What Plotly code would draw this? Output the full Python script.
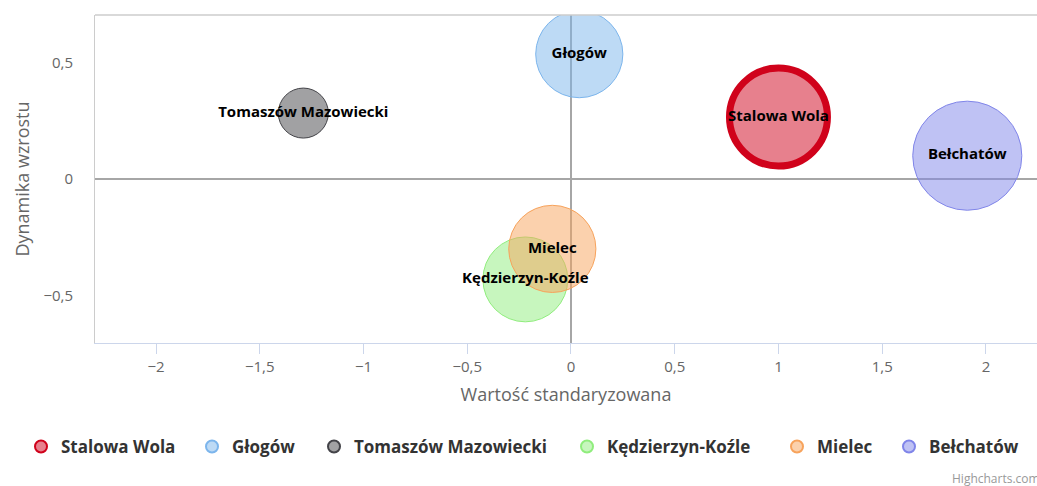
import plotly.graph_objects as go

# Miasta i ich położenie: wartość standaryzowana (x) oraz dynamika wzrostu (y)
miasta = ["Stalowa Wola", "Głogów", "Tomaszów Mazowiecki", "Kędzierzyn-Koźle", "Mielec", "Bełchatów"]
wartosc_std = [1.0, 0.04, -1.29, -0.22, -0.09, 1.91]
dynamika = [0.266, 0.536, 0.283, -0.431, -0.30, 0.10]
wielkosc = [9.6, 7.6, 2.5, 7.2, 7.6, 11.9]
kolory = ["#d0021b", "#7cb5ec", "#434348", "#90ed7d", "#f7a35c", "#8085e9"]
wyrozniony = "Stalowa Wola"

x_ticks = [-2, -1.5, -1, -0.5, 0, 0.5, 1, 1.5, 2]
y_ticks = [-0.5, 0, 0.5]

FONT = "Open Sans"
SIZEREF = 0.002
W, H = 1037, 486

# położenia pozycji legendy (piksele od lewej krawędzi, środek symbolu)
legenda_x = [41, 212, 334, 587, 797, 909]


def rgba(hex_color, alpha):
    h = hex_color.lstrip("#")
    r, g, b = (int(h[i:i + 2], 16) for i in (0, 2, 4))
    return f"rgba({r},{g},{b},{alpha})"


fig = go.Figure()
legend_layouts = {}

for i, (nazwa, x, y, z, kolor) in enumerate(zip(miasta, wartosc_std, dynamika, wielkosc, kolory)):
    leg = "legend" if i == 0 else f"legend{i + 1}"
    fig.add_trace(go.Scatter(
        x=[x], y=[y], name=nazwa, mode="markers", legendgroup=nazwa, legend=leg,
        marker=dict(size=[z], sizemode="area", sizeref=SIZEREF, opacity=1,
                    color=rgba(kolor, 0.5), line=dict(color=kolor, width=1)),
        hovertemplate=f"<b>{nazwa}</b><br>x: %{{x}}<br>y: %{{y}}<extra></extra>",
    ))
    if nazwa == wyrozniony:
        # grube obramowanie wyróżnionego punktu
        fig.add_trace(go.Scatter(
            x=[x], y=[y], mode="markers", legendgroup=nazwa, legend=leg,
            showlegend=False, hoverinfo="skip",
            marker=dict(size=[z], sizemode="area", sizeref=SIZEREF, opacity=1,
                        color="rgba(0,0,0,0)", line=dict(color=kolor, width=7)),
        ))
    legend_layouts[leg] = dict(
        orientation="h", xref="container", yref="container",
        x=(legenda_x[i] - 20) / W, y=1 - 447 / H, xanchor="left", yanchor="middle",
        font=dict(family=FONT, size=17, color="#333333", weight="bold"),
        bgcolor="rgba(0,0,0,0)", borderwidth=0, itemsizing="constant",
    )

# etykiety danych nad wszystkimi bąblami
fig.add_trace(go.Scatter(
    x=wartosc_std, y=dynamika, text=miasta, mode="text", showlegend=False,
    hoverinfo="skip", textposition="middle center",
    textfont=dict(family=FONT, size=15, color="#000000", weight="bold"),
))

fig.update_layout(
    width=W, height=H,
    margin=dict(l=95, r=0, t=15, b=143),
    plot_bgcolor="#ffffff", paper_bgcolor="#ffffff",
    separators=", ",
    font=dict(family=FONT, color="#666666", size=15),
    xaxis=dict(
        range=[-2.294, 2.246], tickvals=x_ticks, ticks="outside", ticklen=10,
        tickcolor="#ccd6eb", tickwidth=1, showgrid=False,
        showline=True, linecolor="#ccd6eb", linewidth=1,
        zeroline=True, zerolinecolor="#a6a6a6", zerolinewidth=2,
        tickfont=dict(size=15, color="#666666"),
        title=dict(text="Wartość standaryzowana", standoff=13,
                   font=dict(size=18, color="#666666")),
        automargin=False, fixedrange=True,
    ),
    yaxis=dict(
        range=[-0.704, 0.704], tickvals=y_ticks, ticks="", showgrid=False,
        showline=True, linecolor="#cccccc", linewidth=1,
        zeroline=True, zerolinecolor="#a6a6a6", zerolinewidth=2,
        ticklabelstandoff=18,
        tickfont=dict(size=15, color="#666666"),
        title=dict(text="Dynamika wzrostu", standoff=9,
                   font=dict(size=18, color="#666666")),
        automargin=False, fixedrange=True,
    ),
    shapes=[
        dict(type="line", xref="paper", yref="paper", x0=0, x1=1, y0=1, y1=1,
             line=dict(color="#cccccc", width=1.5)),
    ],
    annotations=[
        dict(text="Highcharts.com", xref="paper", yref="paper",
             x=0.9076, y=-0.4116, xanchor="left", yanchor="middle",
             showarrow=False, font=dict(size=12, color="#999999")),
    ],
    **legend_layouts,
)

fig.write_html("out.html")
